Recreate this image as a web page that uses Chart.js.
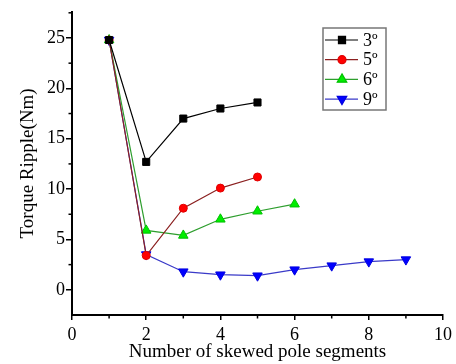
<!DOCTYPE html>
<html>
<head>
<meta charset="utf-8">
<script src="https://cdn.jsdelivr.net/npm/chart.js@4"></script>
<style>
  html, body { margin: 0; padding: 0; background: #fff; }
  #wrap { width: 456px; height: 364px; }
</style>
</head>
<body>
<div id="wrap"><canvas id="chart" width="456" height="364"></canvas></div>
<script>
// values
let seriesLabels = ["3º", "5º", "6º", "9º"];
let segs3 = [1, 2, 3, 4, 5];
let ripple3 = [24.8, 12.7, 17.0, 18.0, 18.6];
let segs5 = [1, 2, 3, 4, 5];
let ripple5 = [24.8, 3.4, 8.1, 10.1, 11.2];
let segs6 = [1, 2, 3, 4, 5, 6];
let ripple6 = [24.8, 5.9, 5.4, 7.0, 7.8, 8.5];
let segs9 = [1, 2, 3, 4, 5, 6, 7, 8, 9];
let ripple9 = [24.8, 3.5, 1.8, 1.5, 1.4, 2.0, 2.4, 2.8, 3.0];

let xTicks = [0, 2, 4, 6, 8, 10];
let yTicks = [0, 5, 10, 15, 20, 25];

let font = "'Liberation Serif', 'Times New Roman', serif";

function pts(xs, ys) {
    return xs.map((x, i) => ({x: x, y: ys[i]}));
}

// minor ticks + legend box drawn with the chart's own scales
let extras = {
    id: 'extras',
    afterDraw(chart) {
        let ctx = chart.ctx;
        let xs = chart.scales.x, ys = chart.scales.y;
        ctx.save();
        ctx.strokeStyle = '#000';
        ctx.lineWidth = 1.5;
        for (let v = 2.5; v < 27.6; v += 5) {
            let py = ys.getPixelForValue(v);
            ctx.beginPath();
            ctx.moveTo(xs.left - 3.5, py);
            ctx.lineTo(xs.left, py);
            ctx.stroke();
        }
        for (let v = 1; v < 10; v += 2) {
            let px = xs.getPixelForValue(v);
            ctx.beginPath();
            ctx.moveTo(px, ys.bottom);
            ctx.lineTo(px, ys.bottom + 3.5);
            ctx.stroke();
        }

        // legend
        let bx = 323, by = 28, bw = 63, bh = 82;
        ctx.fillStyle = '#fff';
        ctx.fillRect(bx, by, bw, bh);
        ctx.strokeStyle = '#777';
        ctx.lineWidth = 1.5;
        ctx.strokeRect(bx, by, bw, bh);
        ctx.font = "18px " + font;
        ctx.textBaseline = 'middle';
        ctx.textAlign = 'left';
        chart.data.datasets.forEach((ds, i) => {
            let ry = 40 + i * 19.7;
            ctx.strokeStyle = ds.borderColor;
            ctx.lineWidth = 1.2;
            ctx.beginPath();
            ctx.moveTo(bx + 2, ry);
            ctx.lineTo(bx + 35, ry);
            ctx.stroke();
            ctx.fillStyle = ds.pointBackgroundColor;
            ctx.strokeStyle = ds.pointBorderColor;
            Chart.helpers.drawPoint(ctx, {
                pointStyle: ds.pointStyle,
                radius: ds.pointRadius,
                rotation: ds.pointRotation || 0,
                borderWidth: 1
            }, bx + 19, ry);
            ctx.fillStyle = '#000';
            ctx.fillText(ds.label, bx + 40, ry + 1);
        });
        ctx.restore();
    }
};

new Chart(document.getElementById('chart'), {
    type: 'line',
    data: {
        datasets: [
            {label: seriesLabels[0], data: pts(segs3, ripple3), borderColor: '#000000',
             pointBackgroundColor: '#000000', pointBorderColor: '#000000', pointStyle: 'rect', pointRadius: 5},
            {label: seriesLabels[1], data: pts(segs5, ripple5), borderColor: '#8b2020',
             pointBackgroundColor: '#ff0000', pointBorderColor: '#e00000', pointStyle: 'circle', pointRadius: 4},
            {label: seriesLabels[2], data: pts(segs6, ripple6), borderColor: '#2e9e2e',
             pointBackgroundColor: '#00ee00', pointBorderColor: '#00c000', pointStyle: 'triangle', pointRadius: 5.5},
            {label: seriesLabels[3], data: pts(segs9, ripple9), borderColor: '#3a3ac8',
             pointBackgroundColor: '#0000ff', pointBorderColor: '#0000e0', pointStyle: 'triangle', pointRadius: 5.5, pointRotation: 180}
        ]
    },
    options: {
        responsive: false,
        animation: false,
        layout: {padding: {top: 7, right: 12, left: 0, bottom: 0}},
        elements: {line: {borderWidth: 1.2, tension: 0}, point: {borderWidth: 1}},
        plugins: {legend: {display: false}, tooltip: {enabled: false}},
        scales: {
            x: {
                type: 'linear', min: 0, max: 10,
                afterBuildTicks: s => { s.ticks = xTicks.map(v => ({value: v})); },
                afterFit: s => { s.height = 49; },
                ticks: {color: '#000', font: {family: font, size: 18}, padding: 4, maxRotation: 0},
                grid: {drawOnChartArea: false, drawTicks: true, tickLength: 5, color: '#000', lineWidth: 1.5},
                border: {display: true, color: '#000', width: 2},
                title: {display: true, text: 'Number of skewed pole segments', color: '#000',
                        font: {family: font, size: 19}, padding: {top: 0, bottom: 1}}
            },
            y: {
                type: 'linear', min: -2.5, max: 27.6,
                afterBuildTicks: s => { s.ticks = yTicks.map(v => ({value: v})); },
                afterFit: s => { s.width = 72; },
                ticks: {color: '#000', font: {family: font, size: 18}, padding: 1},
                grid: {drawOnChartArea: false, drawTicks: true, tickLength: 6, color: '#000', lineWidth: 1.5},
                border: {display: true, color: '#000', width: 2},
                title: {display: true, text: 'Torque Ripple(Nm)', color: '#000',
                        font: {family: font, size: 19}, padding: {top: 17, bottom: 0}}
            }
        }
    },
    plugins: [extras]
});
</script>
</body>
</html>
